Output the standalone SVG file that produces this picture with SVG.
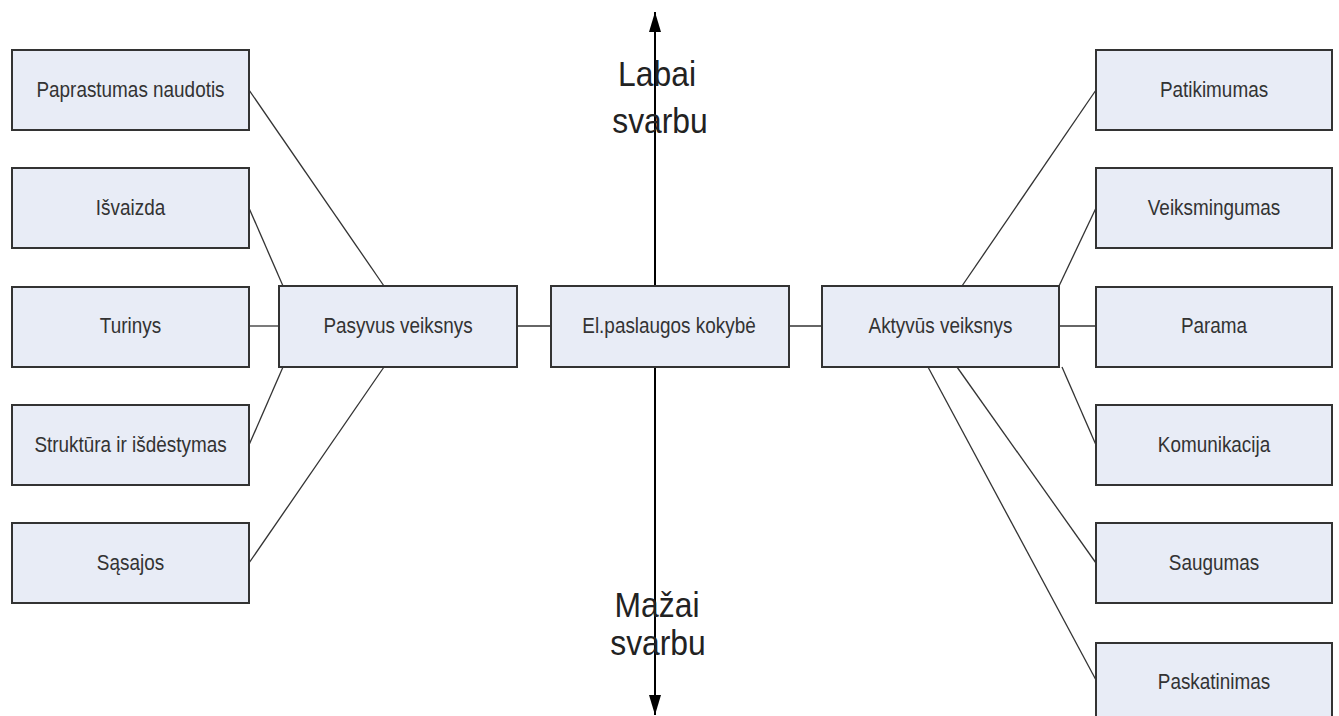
<svg xmlns="http://www.w3.org/2000/svg" width="1339" height="716" viewBox="0 0 1339 716">
<style>
.box{fill:#e8ecf6;stroke:#333;stroke-width:2}
.t{font-family:"Liberation Sans",Arial,sans-serif;font-size:22px;fill:#333;text-anchor:middle}
.big{font-family:"Liberation Sans",Arial,sans-serif;font-size:35px;fill:#222;text-anchor:middle}
.c{stroke:#333;stroke-width:1.3;fill:none}
.ax{stroke:#000;stroke-width:2;fill:none}
</style>
<defs>
<marker id="ah" viewBox="0 0 20 12" refX="20" refY="6" markerWidth="20" markerHeight="12" markerUnits="userSpaceOnUse" orient="auto"><path d="M0,0 L20,6 L0,12 z" fill="#000"/></marker>
</defs>
<rect width="1339" height="716" fill="#fff"/>
<g id="axis">
<line class="ax" x1="655" y1="286" x2="655" y2="12" marker-end="url(#ah)"/>
<line class="ax" x1="655" y1="367" x2="655" y2="715" marker-end="url(#ah)"/>
</g>
<g id="connectors">
<line class="c" x1="249" y1="90" x2="384" y2="286"/>
<line class="c" x1="249" y1="208" x2="283" y2="286"/>
<line class="c" x1="249" y1="326" x2="279" y2="326"/>
<line class="c" x1="249" y1="445" x2="283" y2="367"/>
<line class="c" x1="249" y1="563" x2="384" y2="367"/>
<line class="c" x1="517" y1="326" x2="551" y2="326"/>
<line class="c" x1="789" y1="326" x2="822" y2="326"/>
<line class="c" x1="1096" y1="90" x2="962" y2="286"/>
<line class="c" x1="1096" y1="208" x2="1059" y2="286"/>
<line class="c" x1="1059" y1="326" x2="1096" y2="326"/>
<line class="c" x1="1062" y1="367" x2="1096" y2="445"/>
<line class="c" x1="957" y1="367" x2="1096" y2="563"/>
<line class="c" x1="928" y1="367" x2="1096" y2="680"/>
</g>
<g id="labels">
<text class="big" transform="matrix(0.91,0,0,1,657,86)">Labai</text>
<text class="big" transform="matrix(0.91,0,0,1,660,133)">svarbu</text>
<text class="big" transform="matrix(0.91,0,0,1,657,617)">Mažai</text>
<text class="big" transform="matrix(0.91,0,0,1,658,655)">svarbu</text>
</g>
<g id="n-paprastumas"><rect class="box" x="12" y="50" width="237" height="80"/><text class="t" transform="matrix(0.86,0,0,1,130.5,97)">Paprastumas naudotis</text></g>
<g id="n-isvaizda"><rect class="box" x="12" y="168" width="237" height="80"/><text class="t" transform="matrix(0.86,0,0,1,130.5,215)">Išvaizda</text></g>
<g id="n-turinys"><rect class="box" x="12" y="287" width="237" height="80"/><text class="t" transform="matrix(0.86,0,0,1,130.5,333)">Turinys</text></g>
<g id="n-struktura"><rect class="box" x="12" y="405" width="237" height="80"/><text class="t" transform="matrix(0.86,0,0,1,130.5,452)">Struktūra ir išdėstymas</text></g>
<g id="n-sasajos"><rect class="box" x="12" y="523" width="237" height="80"/><text class="t" transform="matrix(0.86,0,0,1,130.5,570)">Sąsajos</text></g>
<g id="n-pasyvus"><rect class="box" x="279" y="286" width="238" height="81"/><text class="t" transform="matrix(0.86,0,0,1,398,333)">Pasyvus veiksnys</text></g>
<g id="n-el"><rect class="box" x="551" y="286" width="238" height="81"/><text class="t" transform="matrix(0.86,0,0,1,669,333)">El.paslaugos kokybė</text></g>
<g id="n-aktyvus"><rect class="box" x="822" y="286" width="237" height="81"/><text class="t" transform="matrix(0.86,0,0,1,940.5,333)">Aktyvūs veiksnys</text></g>
<g id="n-patikimumas"><rect class="box" x="1096" y="50" width="236" height="80"/><text class="t" transform="matrix(0.86,0,0,1,1214,97)">Patikimumas</text></g>
<g id="n-veiksmingumas"><rect class="box" x="1096" y="168" width="236" height="80"/><text class="t" transform="matrix(0.86,0,0,1,1214,215)">Veiksmingumas</text></g>
<g id="n-parama"><rect class="box" x="1096" y="287" width="236" height="80"/><text class="t" transform="matrix(0.86,0,0,1,1214,333)">Parama</text></g>
<g id="n-komunikacija"><rect class="box" x="1096" y="405" width="236" height="80"/><text class="t" transform="matrix(0.86,0,0,1,1214,452)">Komunikacija</text></g>
<g id="n-saugumas"><rect class="box" x="1096" y="523" width="236" height="80"/><text class="t" transform="matrix(0.86,0,0,1,1214,570)">Saugumas</text></g>
<g id="n-paskatinimas"><rect class="box" x="1096" y="643" width="236" height="80"/><text class="t" transform="matrix(0.86,0,0,1,1214,689)">Paskatinimas</text></g>
</svg>
